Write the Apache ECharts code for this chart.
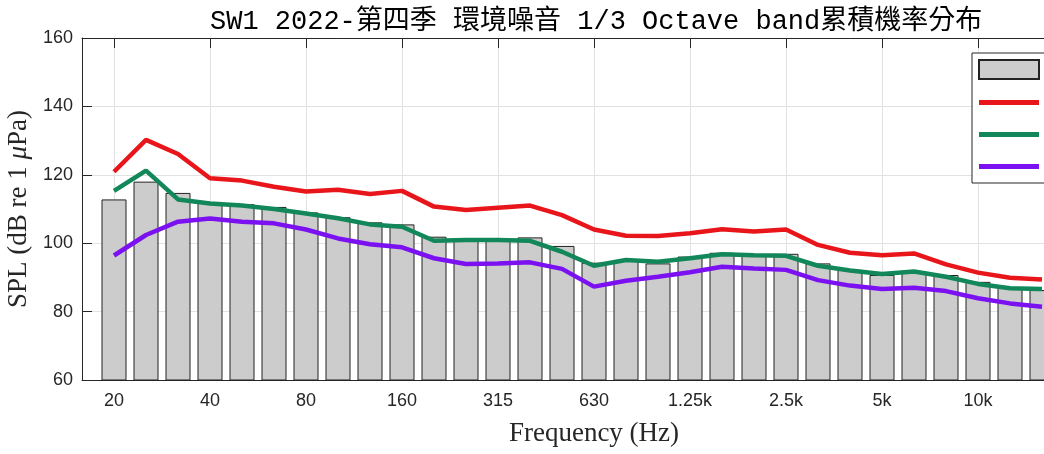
<!DOCTYPE html>
<html>
<head>
<meta charset="utf-8">
<script src="https://cdn.jsdelivr.net/npm/echarts@6/dist/echarts.min.js"></script>
<style>
html,body{margin:0;padding:0;overflow:hidden;background:#fff;width:1044px;height:454px}
#c{width:1160px;height:454px}
</style>
</head>
<body>
<div id="c"></div>
<script>
// 1/3 octave band centre frequencies (Hz)
const frequencies = [20,25,31.5,40,50,63,80,100,125,160,200,250,315,400,500,630,800,1000,1250,1600,2000,2500,3150,4000,5000,6300,8000,10000,12500,16000];
// tick labels shown every third band (20, 40, 80 ...)
const tickLabels = ['20','40','80','160','315','630','1.25k','2.5k','5k','10k','20k'];
// series names (legend text lies outside the visible picture)
const seriesNames = ['Mean','L5','L50','L95'];
// bar values (dB)
const barLevel = [112.8,118.0,114.7,112.0,111.4,110.6,109.0,107.6,106.1,105.5,101.9,101.4,101.4,101.7,99.2,94.3,95.1,94.1,96.1,97.2,96.3,96.9,94.1,92.2,90.7,91.8,90.7,88.7,87.0,86.3];
// red line
const redLevel = [120.9,130.2,126.1,119.0,118.3,116.5,115.1,115.6,114.4,115.3,110.7,109.7,110.4,111.0,108.2,104.0,102.2,102.1,102.9,104.1,103.4,104.0,99.5,97.2,96.5,97.0,93.8,91.4,89.9,89.4];
// green line
const greenLevel = [115.3,121.2,112.8,111.6,111.0,110.0,108.7,107.3,105.5,104.8,100.7,100.9,100.9,100.7,97.5,93.4,95.1,94.6,95.6,96.8,96.5,96.3,93.4,92.0,91.0,91.7,90.2,88.1,86.8,86.6];
// purple line
const purpleLevel = [96.4,102.4,106.3,107.2,106.3,105.8,104.0,101.4,99.7,98.8,95.6,93.9,94.1,94.4,92.5,87.3,89.0,90.2,91.5,93.1,92.6,92.2,89.2,87.6,86.6,87.0,86.0,83.9,82.4,81.4];

// axis runs from one band before 20 Hz to one band after the 20 kHz band
const axisCats = [''].concat(frequencies.map(String), ['', '']);
const pad = arr => [null].concat(arr, [null, null]);
const isTick = i => i >= 1 && (i - 1) % 3 === 0;
const labelAt = i => isTick(i) ? (tickLabels[(i - 1) / 3] || '') : '';

const axisColor = '#262626';
const gridColor = '#e2e2e2';
const lineIcon = 'path://M0 0H60V5H0Z';

const chart = echarts.init(document.getElementById('c'), null, {renderer: 'canvas'});
chart.setOption({
  animation: false,
  backgroundColor: '#ffffff',
  title: {
    text: 'SW1 2022-第四季 環境噪音 1/3 Octave band累積機率分布',
    left: 210, top: 8, padding: 0,
    textStyle: {fontFamily: "'Liberation Mono','Noto Sans CJK TC'", fontSize: 27, fontWeight: 'normal', color: '#000'}
  },
  grid: {left: 82, right: 54, top: 38, bottom: 74, containLabel: false, outerBoundsMode: 'none'},
  legend: {
    orient: 'vertical', left: 972, top: 53,
    padding: [6, 30, 7, 6],
    itemWidth: 60, itemHeight: 19, itemGap: 13, symbolKeepAspect: true,
    backgroundColor: '#ffffff', borderColor: axisColor, borderWidth: 1,
    textStyle: {fontFamily: 'Liberation Serif', fontSize: 14, lineHeight: 19, color: '#000', padding: [0, 0, 0, 10]},
    data: [
      {name: seriesNames[0], icon: 'rect'},
      {name: seriesNames[1], icon: lineIcon},
      {name: seriesNames[2], icon: lineIcon},
      {name: seriesNames[3], icon: lineIcon}
    ]
  },
  xAxis: [{
    type: 'category', data: axisCats, boundaryGap: false, position: 'bottom',
    axisLine: {onZero: false, lineStyle: {color: axisColor, width: 1}},
    axisTick: {inside: true, length: 10, interval: isTick, lineStyle: {color: axisColor}},
    axisLabel: {interval: 0, formatter: (v, i) => labelAt(i), color: axisColor, fontFamily: 'Liberation Sans', fontSize: 18, margin: 12},
    splitLine: {show: true, interval: isTick, lineStyle: {color: gridColor, width: 1}},
    name: 'Frequency (Hz)', nameLocation: 'middle', nameGap: 40,
    nameTextStyle: {fontFamily: 'Liberation Serif', fontSize: 27, color: axisColor}
  }, {
    type: 'category', data: axisCats, boundaryGap: false, position: 'top',
    axisLine: {onZero: false, lineStyle: {color: axisColor, width: 1}},
    axisTick: {inside: true, length: 10, interval: isTick, lineStyle: {color: axisColor}},
    axisLabel: {show: false}, splitLine: {show: false}
  }],
  yAxis: {
    type: 'value', min: 60, max: 160, interval: 20,
    axisLine: {show: true, lineStyle: {color: axisColor, width: 1}},
    axisTick: {show: true, inside: true, length: 10, lineStyle: {color: axisColor}},
    axisLabel: {color: axisColor, fontFamily: 'Liberation Sans', fontSize: 18, margin: 9},
    splitLine: {show: true, lineStyle: {color: gridColor, width: 1}},
    name: 'SPL (dB re 1 {i|μ}Pa)', nameLocation: 'middle', nameGap: 42, nameRotate: 90,
    nameTextStyle: {fontFamily: 'Liberation Serif', fontSize: 27, color: axisColor,
      rich: {i: {fontFamily: 'Liberation Serif', fontStyle: 'italic', fontSize: 27, color: axisColor}}}
  },
  series: [{
    name: seriesNames[0], type: 'bar', data: pad(barLevel), barWidth: 25,
    itemStyle: {color: '#cccccc', borderColor: '#222222', borderWidth: 1}
  }, {
    name: seriesNames[1], type: 'line', data: pad(redLevel), symbol: 'none', z: 3,
    lineStyle: {color: '#e8161b', width: 4.5}, itemStyle: {color: '#e8161b'}
  }, {
    name: seriesNames[2], type: 'line', data: pad(greenLevel), symbol: 'none', z: 3,
    lineStyle: {color: '#12875a', width: 4.5}, itemStyle: {color: '#12875a'}
  }, {
    name: seriesNames[3], type: 'line', data: pad(purpleLevel), symbol: 'none', z: 3,
    lineStyle: {color: '#7b10f0', width: 4.5}, itemStyle: {color: '#7b10f0'}
  }]
});
</script>
</body>
</html>
